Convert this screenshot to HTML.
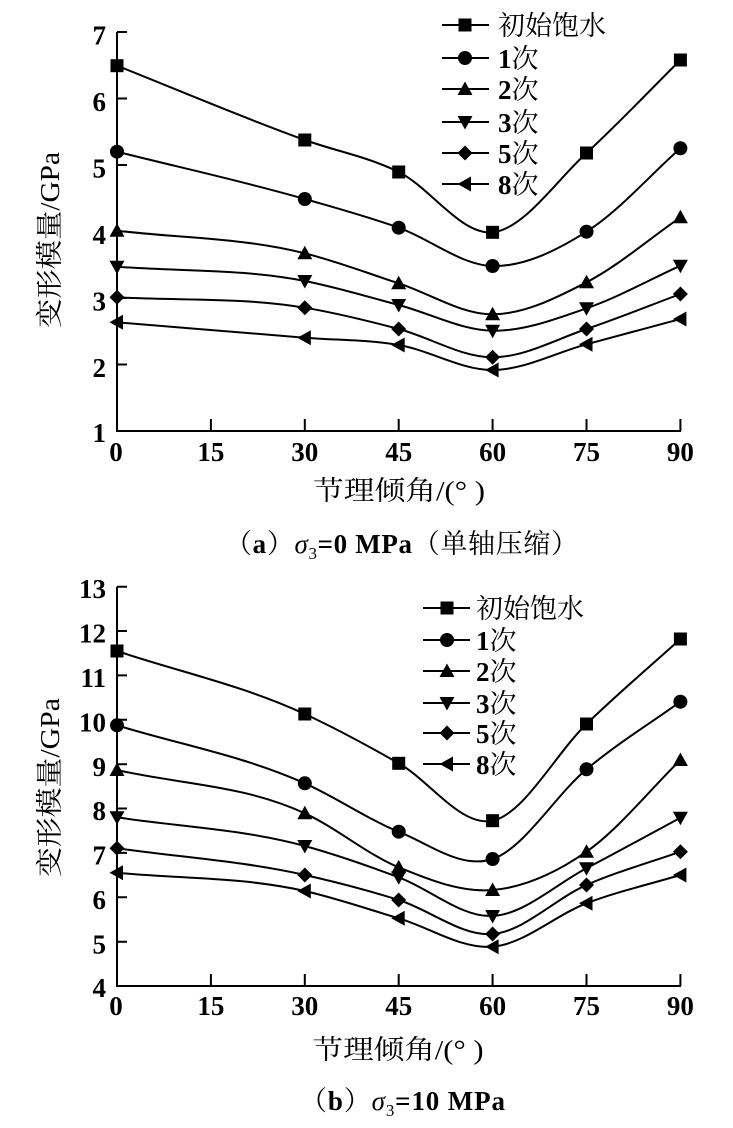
<!DOCTYPE html>
<html><head><meta charset="utf-8"><style>
html,body{margin:0;padding:0;background:#fff;}
svg{display:block;}
.num{font-family:"Liberation Serif","Noto Serif CJK SC",serif;font-weight:bold;font-size:27px;fill:#000;}
.cjk{font-family:"Liberation Serif","Noto Serif CJK SC",serif;font-size:27px;fill:#000;}
.ln{fill:none;stroke:#000;stroke-width:2;}
.ax{fill:none;stroke:#000;stroke-width:2;}
</style></head><body>
<svg width="733" height="1128" viewBox="0 0 733 1128" xmlns="http://www.w3.org/2000/svg">
<defs>
<rect id="sq" x="-6.5" y="-6.5" width="13" height="13" fill="#000"/>
<circle id="ci" cx="0" cy="0" r="7" fill="#000"/>
<polygon id="up" points="0,-7.5 7.5,6 -7.5,6" fill="#000"/>
<polygon id="dn" points="0,7.5 7.5,-6 -7.5,-6" fill="#000"/>
<polygon id="di" points="0,-7.5 7.5,0 0,7.5 -7.5,0" fill="#000"/>
<polygon id="lt" points="-7.5,0 6,-7.5 6,7.5" fill="#000"/>
</defs>

<!-- ============ CHART A ============ -->
<g>
<path class="ax" d="M117,32 V431 H681"/>
<!-- y ticks -->
<path class="ax" d="M117,32 h10 M117,98.5 h10 M117,165 h10 M117,231.5 h10 M117,298 h10 M117,364.5 h10"/>
<!-- x ticks -->
<path class="ax" d="M210.9,431 v-12 M304.8,431 v-12 M398.7,431 v-12 M492.6,431 v-12 M586.5,431 v-12 M680.4,431 v-12"/>
<g class="num" text-anchor="end">
<text x="106" y="44.5">7</text>
<text x="106" y="111">6</text>
<text x="106" y="177.5">5</text>
<text x="106" y="244">4</text>
<text x="106" y="310.5">3</text>
<text x="106" y="377">2</text>
<text x="106" y="442">1</text>
</g>
<g class="num" text-anchor="middle">
<text x="116" y="461">0</text>
<text x="210.9" y="461">15</text>
<text x="304.8" y="461">30</text>
<text x="398.7" y="461">45</text>
<text x="492.6" y="461">60</text>
<text x="586.5" y="461">75</text>
<text x="680.4" y="461">90</text>
</g>
<text class="cjk" transform="translate(50,240) rotate(-90)" text-anchor="middle" dominant-baseline="central" textLength="176" lengthAdjust="spacingAndGlyphs">变形模量/GPa</text>
<text class="cjk" x="399" y="500" text-anchor="middle" textLength="172" lengthAdjust="spacingAndGlyphs">节理倾角/(° )</text>

<path class="ln" d="M117,65.7 C179.6,90.5 242.2,117.5 304.8,140 C336.1,151.2 367.4,156.6 398.7,172 C430,187.4 461.3,235.5 492.6,232.3 C523.9,229.1 555.2,181.7 586.5,153 C617.8,124.3 649.1,91 680.4,60"/>
<path class="ln" d="M117,151.7 C179.6,167.5 242.2,181 304.8,199 C336.1,208 367.4,216.5 398.7,227.7 C430,238.9 461.3,265.3 492.6,266 C523.9,266.7 555.2,251.3 586.5,231.7 C617.8,212.1 649.1,176.1 680.4,148.3"/>
<path class="ln" d="M117,230.7 C179.6,238.2 242.2,237.5 304.8,253.3 C336.1,261.2 367.4,273.1 398.7,283.3 C430,293.5 461.3,314.5 492.6,314.3 C523.9,314.1 555.2,298.5 586.5,282.3 C617.8,266.1 649.1,239 680.4,217.3"/>
<path class="ln" d="M117,266.7 C179.6,271.5 242.2,268.7 304.8,281 C336.1,287.1 367.4,296.7 398.7,305 C430,313.3 461.3,330.2 492.6,330.7 C523.9,331.3 555.2,319.1 586.5,308.3 C617.8,297.5 649.1,279.9 680.4,265.7"/>
<path class="ln" d="M117,297.3 C179.6,300.8 242.2,297.1 304.8,307.7 C336.1,313 367.4,320.7 398.7,329 C430,337.3 461.3,357.3 492.6,357.3 C523.9,357.3 555.2,339.6 586.5,329 C617.8,318.5 649.1,305.7 680.4,294"/>
<path class="ln" d="M117,322.3 C179.6,327.4 242.2,332.7 304.8,337.7 C336.1,340.2 367.4,339.6 398.7,345 C430,350.4 461.3,370.1 492.6,370 C523.9,369.9 555.2,352.8 586.5,344.3 C617.8,335.8 649.1,327.4 680.4,319"/>

<use href="#sq" x="117" y="65.7"/><use href="#sq" x="304.8" y="140"/><use href="#sq" x="398.7" y="172"/><use href="#sq" x="492.6" y="232.3"/><use href="#sq" x="586.5" y="153"/><use href="#sq" x="680.4" y="60"/>
<use href="#ci" x="117" y="151.7"/><use href="#ci" x="304.8" y="199"/><use href="#ci" x="398.7" y="227.7"/><use href="#ci" x="492.6" y="266"/><use href="#ci" x="586.5" y="231.7"/><use href="#ci" x="680.4" y="148.3"/>
<use href="#up" x="117" y="230.7"/><use href="#up" x="304.8" y="253.3"/><use href="#up" x="398.7" y="283.3"/><use href="#up" x="492.6" y="314.3"/><use href="#up" x="586.5" y="282.3"/><use href="#up" x="680.4" y="217.3"/>
<use href="#dn" x="117" y="266.7"/><use href="#dn" x="304.8" y="281"/><use href="#dn" x="398.7" y="305"/><use href="#dn" x="492.6" y="330.7"/><use href="#dn" x="586.5" y="308.3"/><use href="#dn" x="680.4" y="265.7"/>
<use href="#di" x="117" y="297.3"/><use href="#di" x="304.8" y="307.7"/><use href="#di" x="398.7" y="329"/><use href="#di" x="492.6" y="357.3"/><use href="#di" x="586.5" y="329"/><use href="#di" x="680.4" y="294"/>
<use href="#lt" x="117" y="322.3"/><use href="#lt" x="304.8" y="337.7"/><use href="#lt" x="398.7" y="345"/><use href="#lt" x="492.6" y="370"/><use href="#lt" x="586.5" y="344.3"/><use href="#lt" x="680.4" y="319"/>

<!-- legend a -->
<path class="ln" d="M442,25 H489 M442,58 H489 M442,89 H489 M442,122 H489 M442,153 H489 M442,184 H489"/>
<use href="#sq" x="465" y="25"/><use href="#ci" x="465" y="58"/><use href="#up" x="465" y="89"/><use href="#dn" x="465" y="122"/><use href="#di" x="465" y="153"/><use href="#lt" x="465" y="184"/>
<text class="cjk" x="498" y="35">初始饱水</text>
<text class="cjk" x="498" y="68"><tspan font-weight="bold">1</tspan>次</text>
<text class="cjk" x="498" y="99"><tspan font-weight="bold">2</tspan>次</text>
<text class="cjk" x="498" y="132"><tspan font-weight="bold">3</tspan>次</text>
<text class="cjk" x="498" y="163"><tspan font-weight="bold">5</tspan>次</text>
<text class="cjk" x="498" y="194"><tspan font-weight="bold">8</tspan>次</text>

<text class="cjk" x="225" y="553" font-size="26" textLength="353" lengthAdjust="spacing">（<tspan font-weight="bold">a</tspan>）<tspan font-style="italic">σ</tspan><tspan font-size="17" dy="6">3</tspan><tspan font-weight="bold" dy="-6">=0 MPa</tspan>（单轴压缩）</text>
</g>

<!-- ============ CHART B ============ -->
<g>
<path class="ax" d="M117,586.7 V986 H681"/>
<path class="ax" d="M117,586.7 h10 M117,631 h10 M117,675.4 h10 M117,719.8 h10 M117,764.2 h10 M117,808.5 h10 M117,852.9 h10 M117,897.3 h10 M117,941.7 h10"/>
<path class="ax" d="M210.9,986 v-12 M304.8,986 v-12 M398.7,986 v-12 M492.6,986 v-12 M586.5,986 v-12 M680.4,986 v-12"/>
<g class="num" text-anchor="end">
<text x="106" y="598">13</text>
<text x="106" y="642.5">12</text>
<text x="106" y="687">11</text>
<text x="106" y="731.5">10</text>
<text x="106" y="776">9</text>
<text x="106" y="820">8</text>
<text x="106" y="864.5">7</text>
<text x="106" y="909">6</text>
<text x="106" y="953.5">5</text>
<text x="106" y="997">4</text>
</g>
<g class="num" text-anchor="middle">
<text x="116" y="1015">0</text>
<text x="210.9" y="1015">15</text>
<text x="304.8" y="1015">30</text>
<text x="398.7" y="1015">45</text>
<text x="492.6" y="1015">60</text>
<text x="586.5" y="1015">75</text>
<text x="680.4" y="1015">90</text>
</g>
<text class="cjk" transform="translate(50,787.5) rotate(-90)" text-anchor="middle" dominant-baseline="central" textLength="179" lengthAdjust="spacingAndGlyphs">变形模量/GPa</text>
<text class="cjk" x="398" y="1059" text-anchor="middle" textLength="171" lengthAdjust="spacingAndGlyphs">节理倾角/(° )</text>

<path class="ln" d="M117,651 C179.6,672 242.2,685.1 304.8,714 C336.1,728.5 367.4,745.5 398.7,763.3 C430,781.1 461.3,827.3 492.6,820.7 C523.9,814.2 555.2,754.3 586.5,724 C617.8,693.7 649.1,667.3 680.4,639"/>
<path class="ln" d="M117,725.3 C179.6,744.6 242.2,755.4 304.8,783.3 C336.1,797.3 367.4,819.1 398.7,831.7 C430,844.3 461.3,869.4 492.6,859 C523.9,848.6 555.2,795.5 586.5,769.3 C617.8,743.1 649.1,724.2 680.4,701.7"/>
<path class="ln" d="M117,770 C179.6,784.4 242.2,784.5 304.8,813.3 C336.1,827.7 367.4,854.5 398.7,867.3 C430,880.1 461.3,892.6 492.6,890 C523.9,887.4 555.2,873.4 586.5,851.7 C617.8,830 649.1,790.6 680.4,760"/>
<path class="ln" d="M117,817.3 C179.6,826.9 242.2,828.9 304.8,846 C336.1,854.6 367.4,865.6 398.7,877.3 C430,889 461.3,917.5 492.6,916 C523.9,914.5 555.2,884.7 586.5,868.3 C617.8,851.9 649.1,834.6 680.4,817.7"/>
<path class="ln" d="M117,848.3 C179.6,857.2 242.2,860.9 304.8,875 C336.1,882 367.4,890.2 398.7,900 C430,909.8 461.3,936.5 492.6,934 C523.9,931.5 555.2,898.7 586.5,885 C617.8,871.3 649.1,862.8 680.4,851.7"/>
<path class="ln" d="M117,872.7 C179.6,878.8 242.2,876.8 304.8,891 C336.1,898.1 367.4,909 398.7,918.3 C430,927.6 461.3,949.2 492.6,946.7 C523.9,944.2 555.2,915.3 586.5,903.3 C617.8,891.4 649.1,884.4 680.4,875"/>

<use href="#sq" x="117" y="651"/><use href="#sq" x="304.8" y="714"/><use href="#sq" x="398.7" y="763.3"/><use href="#sq" x="492.6" y="820.7"/><use href="#sq" x="586.5" y="724"/><use href="#sq" x="680.4" y="639"/>
<use href="#ci" x="117" y="725.3"/><use href="#ci" x="304.8" y="783.3"/><use href="#ci" x="398.7" y="831.7"/><use href="#ci" x="492.6" y="859"/><use href="#ci" x="586.5" y="769.3"/><use href="#ci" x="680.4" y="701.7"/>
<use href="#up" x="117" y="770"/><use href="#up" x="304.8" y="813.3"/><use href="#up" x="398.7" y="867.3"/><use href="#up" x="492.6" y="890"/><use href="#up" x="586.5" y="851.7"/><use href="#up" x="680.4" y="760"/>
<use href="#dn" x="117" y="817.3"/><use href="#dn" x="304.8" y="846"/><use href="#dn" x="398.7" y="877.3"/><use href="#dn" x="492.6" y="916"/><use href="#dn" x="586.5" y="868.3"/><use href="#dn" x="680.4" y="817.7"/>
<use href="#di" x="117" y="848.3"/><use href="#di" x="304.8" y="875"/><use href="#di" x="398.7" y="900"/><use href="#di" x="492.6" y="934"/><use href="#di" x="586.5" y="885"/><use href="#di" x="680.4" y="851.7"/>
<use href="#lt" x="117" y="872.7"/><use href="#lt" x="304.8" y="891"/><use href="#lt" x="398.7" y="918.3"/><use href="#lt" x="492.6" y="946.7"/><use href="#lt" x="586.5" y="903.3"/><use href="#lt" x="680.4" y="875"/>

<!-- legend b -->
<path class="ln" d="M423,608 H470 M423,640 H470 M423,671 H470 M423,703 H470 M423,733 H470 M423,764 H470"/>
<use href="#sq" x="447" y="608"/><use href="#ci" x="447" y="640"/><use href="#up" x="447" y="671"/><use href="#dn" x="447" y="703"/><use href="#di" x="447" y="733"/><use href="#lt" x="447" y="764"/>
<text class="cjk" x="476" y="618">初始饱水</text>
<text class="cjk" x="476" y="650"><tspan font-weight="bold">1</tspan>次</text>
<text class="cjk" x="476" y="681"><tspan font-weight="bold">2</tspan>次</text>
<text class="cjk" x="476" y="713"><tspan font-weight="bold">3</tspan>次</text>
<text class="cjk" x="476" y="743"><tspan font-weight="bold">5</tspan>次</text>
<text class="cjk" x="476" y="774"><tspan font-weight="bold">8</tspan>次</text>

<text class="cjk" x="300" y="1110" font-size="26" textLength="205" lengthAdjust="spacing">（<tspan font-weight="bold">b</tspan>）<tspan font-style="italic">σ</tspan><tspan font-size="17" dy="6">3</tspan><tspan font-weight="bold" dy="-6">=10 MPa</tspan></text>
</g>
</svg>
</body></html>
